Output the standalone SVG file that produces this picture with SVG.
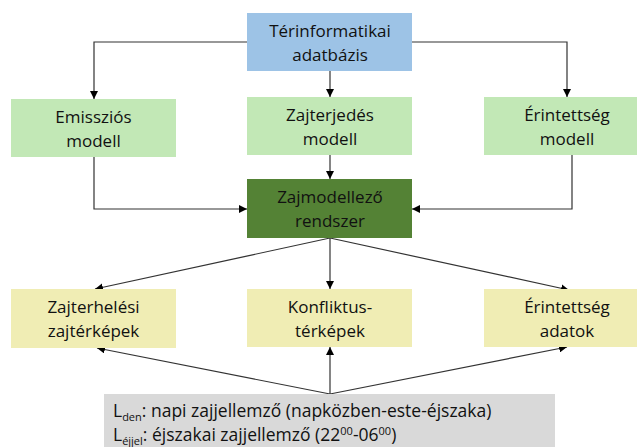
<svg xmlns="http://www.w3.org/2000/svg" width="637" height="447" viewBox="0 0 637 447">
<defs>
<marker id="ah" viewBox="0 0 10 10" refX="10" refY="5" markerWidth="8" markerHeight="8" markerUnits="userSpaceOnUse" orient="auto">
<path d="M0,0 L10,5 L0,10 z" fill="#000"/>
</marker>
<style>
.t{font-family:"Open Sans","Liberation Sans",Arial,sans-serif;font-size:17px;fill:#111;text-anchor:middle}
.c{fill:none;stroke:#333;stroke-width:1.2;marker-end:url(#ah)}
.blue{fill:#9DC3E6}
.green{fill:#C2E8B6}
.dark{fill:#548235}
.yellow{fill:#F0EDB4}
.gray{fill:#D9D9D9}
.n{font-family:"Open Sans","Liberation Sans",Arial,sans-serif;font-size:17.5px;fill:#111}
.s{font-size:11px}
</style>
</defs>
<rect width="637" height="447" fill="#fff"/>
<g id="connectors">
<polyline class="c" points="247,42 94,42 94,99"/>
<polyline class="c" points="330,71 330,97"/>
<polyline class="c" points="412,42 567,42 567,97"/>
<polyline class="c" points="94,157 94,209 247,209"/>
<polyline class="c" points="330,155 330,179"/>
<polyline class="c" points="572,155 572,209 412,209"/>
<line class="c" x1="330" y1="238" x2="95" y2="289"/>
<line class="c" x1="330" y1="238" x2="330" y2="289"/>
<line class="c" x1="330" y1="238" x2="569" y2="290"/>
<line class="c" x1="330" y1="394" x2="97" y2="348"/>
<line class="c" x1="330" y1="394" x2="330" y2="347"/>
<line class="c" x1="330" y1="394" x2="567" y2="347"/>
</g>
<g id="terinformatikai">
<rect class="blue" x="247" y="13" width="165" height="58"/>
<text class="t" x="330" y="37">Térinformatikai</text>
<text class="t" x="330" y="61">adatbázis</text>
</g>
<g id="emisszios">
<rect class="green" x="11" y="99" width="165" height="58"/>
<text class="t" x="93.5" y="123">Emissziós</text>
<text class="t" x="93.5" y="147">modell</text>
</g>
<g id="zajterjedes">
<rect class="green" x="247" y="97" width="165" height="58"/>
<text class="t" x="330" y="121">Zajterjedés</text>
<text class="t" x="330" y="145">modell</text>
</g>
<g id="erintettseg-modell">
<rect class="green" x="484" y="97" width="165" height="58"/>
<text class="t" x="567" y="121">Érintettség</text>
<text class="t" x="567" y="145">modell</text>
</g>
<g id="zajmodellezo">
<rect class="dark" x="247" y="179" width="165" height="59"/>
<text class="t" x="330" y="203">Zajmodellező</text>
<text class="t" x="330" y="227">rendszer</text>
</g>
<g id="zajterhelesi">
<rect class="yellow" x="11" y="289" width="165" height="59"/>
<text class="t" x="93.5" y="313">Zajterhelési</text>
<text class="t" x="93.5" y="337">zajtérképek</text>
</g>
<g id="konfliktus">
<rect class="yellow" x="247" y="289" width="165" height="58"/>
<text class="t" x="330" y="313">Konfliktus-</text>
<text class="t" x="330" y="337">térképek</text>
</g>
<g id="erintettseg-adatok">
<rect class="yellow" x="484" y="289" width="165" height="58"/>
<text class="t" x="567" y="313">Érintettség</text>
<text class="t" x="567" y="337">adatok</text>
</g>
<g id="jelmagyarazat">
<rect class="gray" x="104" y="394" width="451" height="53"/>
<text class="n" x="113" y="417">L<tspan class="s" dy="4">den</tspan><tspan dy="-4">: napi zajjellemző (napközben-este-éjszaka)</tspan></text>
<text class="n" x="113" y="441">L<tspan class="s" dy="4">éjjel</tspan><tspan dy="-4">: éjszakai zajjellemző (22</tspan><tspan class="s" dy="-6">00</tspan><tspan dy="6">-06</tspan><tspan class="s" dy="-6">00</tspan><tspan dy="6">)</tspan></text>
</g>
</svg>
